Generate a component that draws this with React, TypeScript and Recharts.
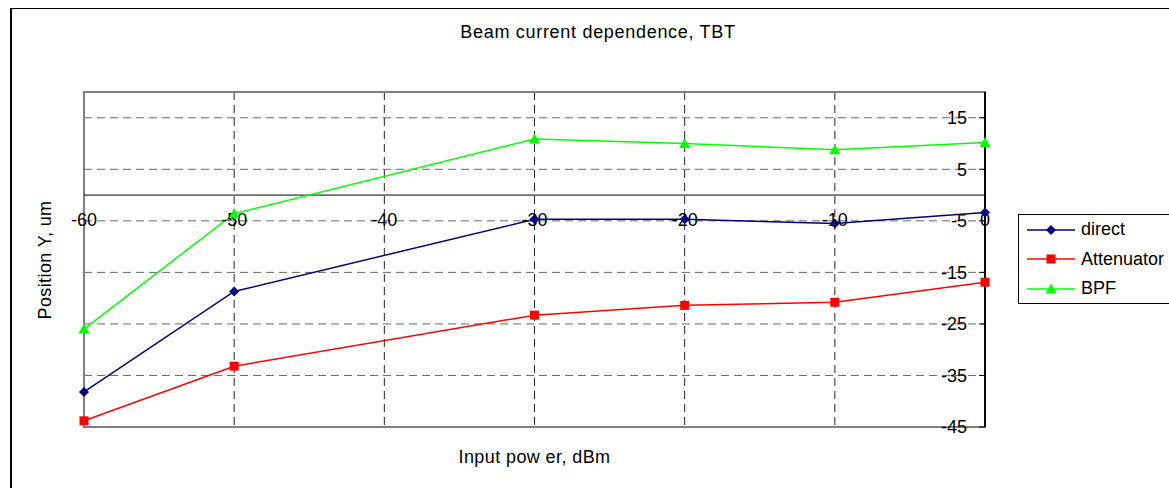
import {
  CartesianGrid,
  Line,
  LineChart,
  ReferenceArea,
  ReferenceDot,
  ReferenceLine,
  XAxis,
  YAxis,
} from "recharts";

const powers = [-60, -50, -30, -20, -10, 0];
const direct = [-38.2, -18.7, -4.7, -4.7, -5.5, -3.4];
const attenuator = [-43.8, -33.2, -23.3, -21.4, -20.8, -16.9];
const bpf = [-26.0, -3.6, 10.9, 10.0, 8.8, 10.2];

const xTicks = [-60, -50, -40, -30, -20, -10, 0];
const yTicks = [-45, -35, -25, -15, -5, 5, 15];

const data = powers.map((p, i) => ({
  power: p,
  direct: direct[i],
  attenuator: attenuator[i],
  bpf: bpf[i],
}));

const FONT = "'Liberation Sans', Arial, sans-serif";
const FS = 18;

const SERIES = [
  { key: "direct", name: "direct", color: "#000080", shape: "diamond" },
  { key: "attenuator", name: "Attenuator", color: "#FF0000", shape: "square" },
  { key: "bpf", name: "BPF", color: "#00FF00", shape: "triangle" },
];

function marker(shape: string, cx: number, cy: number, color: string, key?: any) {
  if (shape === "diamond")
    return (
      <path key={key} d={`M${cx},${cy - 5}L${cx + 5},${cy}L${cx},${cy + 5}L${cx - 5},${cy}Z`} fill={color} />
    );
  if (shape === "square")
    return <rect key={key} x={cx - 4.5} y={cy - 4.5} width={9} height={9} fill={color} />;
  return (
    <path key={key} d={`M${cx},${cy - 5.5}L${cx + 5.5},${cy + 4.5}L${cx - 5.5},${cy + 4.5}Z`} fill={color} />
  );
}

function LegendBox() {
  return (
    <div
      style={{
        position: "absolute",
        left: 1018,
        top: 214,
        border: "1px solid #000",
        width: 190,
        height: 90,
        boxSizing: "border-box",
        background: "#fff",
        fontFamily: FONT,
        fontSize: FS,
      }}
    >
      {SERIES.map((s) => (
        <div key={s.key} style={{ display: "flex", alignItems: "center", height: 29.5 }}>
          <svg width={54} height={14} style={{ marginLeft: 8, flex: "none" }}>
            <line x1={0} y1={7} x2={48} y2={7} stroke={s.color} strokeWidth={1.5} />
            {marker(s.shape, 24, 7, s.color)}
          </svg>
          <span style={{ whiteSpace: "nowrap" }}>{s.name}</span>
        </div>
      ))}
    </div>
  );
}

export default function App() {
  return (
    <div style={{ position: "absolute", left: 0, top: 0, width: 1169, height: 488, overflow: "hidden", background: "#fff" }}>
      <div
        style={{
          position: "absolute",
          left: 10,
          top: 8,
          width: 1300,
          height: 600,
          borderLeft: "2px solid #000",
          borderTop: "1px solid #000",
        }}
      />
      <div
        style={{
          position: "absolute",
          left: 0,
          width: 1196,
          top: 22,
          textAlign: "center",
          fontFamily: FONT,
          fontSize: FS,
          letterSpacing: 0.7,
        }}
      >
        Beam current dependence, TBT
      </div>
      <div
        style={{
          position: "absolute",
          left: 45,
          top: 260,
          transform: "translate(-50%, -50%) rotate(-90deg)",
          whiteSpace: "nowrap",
          fontFamily: FONT,
          fontSize: FS,
          letterSpacing: 0.4,
        }}
      >
        Position Y, um
      </div>
      <div
        style={{
          position: "absolute",
          left: 0,
          width: 1069,
          top: 447,
          textAlign: "center",
          fontFamily: FONT,
          fontSize: FS,
          letterSpacing: 0.4,
        }}
      >
        Input pow er, dBm
      </div>
      <div style={{ position: "absolute", left: 0, top: 0 }}>
        <LineChart
          width={1169}
          height={488}
          data={data}
          margin={{ top: 92, right: 184, bottom: 61, left: 84 }}
        >
          <CartesianGrid stroke="#666" strokeDasharray="8 5" vertical={false} />
          <CartesianGrid stroke="#222" strokeDasharray="8 5" horizontal={false} />
          <XAxis
            dataKey="power"
            type="number"
            domain={[-60, 0]}
            ticks={xTicks}
            height={0}
            tick={() => <g />}
            axisLine={false}
            tickLine={false}
          />
          <YAxis
            orientation="right"
            mirror
            domain={[-45, 20]}
            ticks={yTicks}
            allowDataOverflow
            axisLine={{ stroke: "#000", strokeWidth: 1.5 }}
            tickLine={{ stroke: "#000" }}
            tickSize={6}
            tickMargin={12}
            tick={{ fill: "#000", fontSize: FS, fontFamily: FONT }}
          />
          <ReferenceArea x1={-60} x2={0} y1={-45} y2={20} fill="none" stroke="#808080" strokeWidth={2} />
          <ReferenceLine y={0} stroke="#000" />
          <ReferenceLine x={0} stroke="#000" strokeWidth={1.5} />
          {xTicks.map((t) => (
            <ReferenceDot
              key={t}
              x={t}
              y={0}
              r={0}
              shape={(p: any) => (
                <text
                  x={p.cx}
                  y={p.cy + 31}
                  textAnchor="middle"
                  fontSize={FS}
                  fontFamily={FONT}
                  fill="#000"
                >
                  {t}
                </text>
              )}
            />
          ))}
          {SERIES.map((s) => (
            <Line
              key={s.key}
              dataKey={s.key}
              name={s.name}
              stroke={s.color}
              strokeWidth={1.5}
              isAnimationActive={false}
              dot={(p: any) => marker(s.shape, p.cx, p.cy, s.color, p.key ?? p.index)}
              activeDot={false}
            />
          ))}
        </LineChart>
      </div>
      <LegendBox />
    </div>
  );
}
